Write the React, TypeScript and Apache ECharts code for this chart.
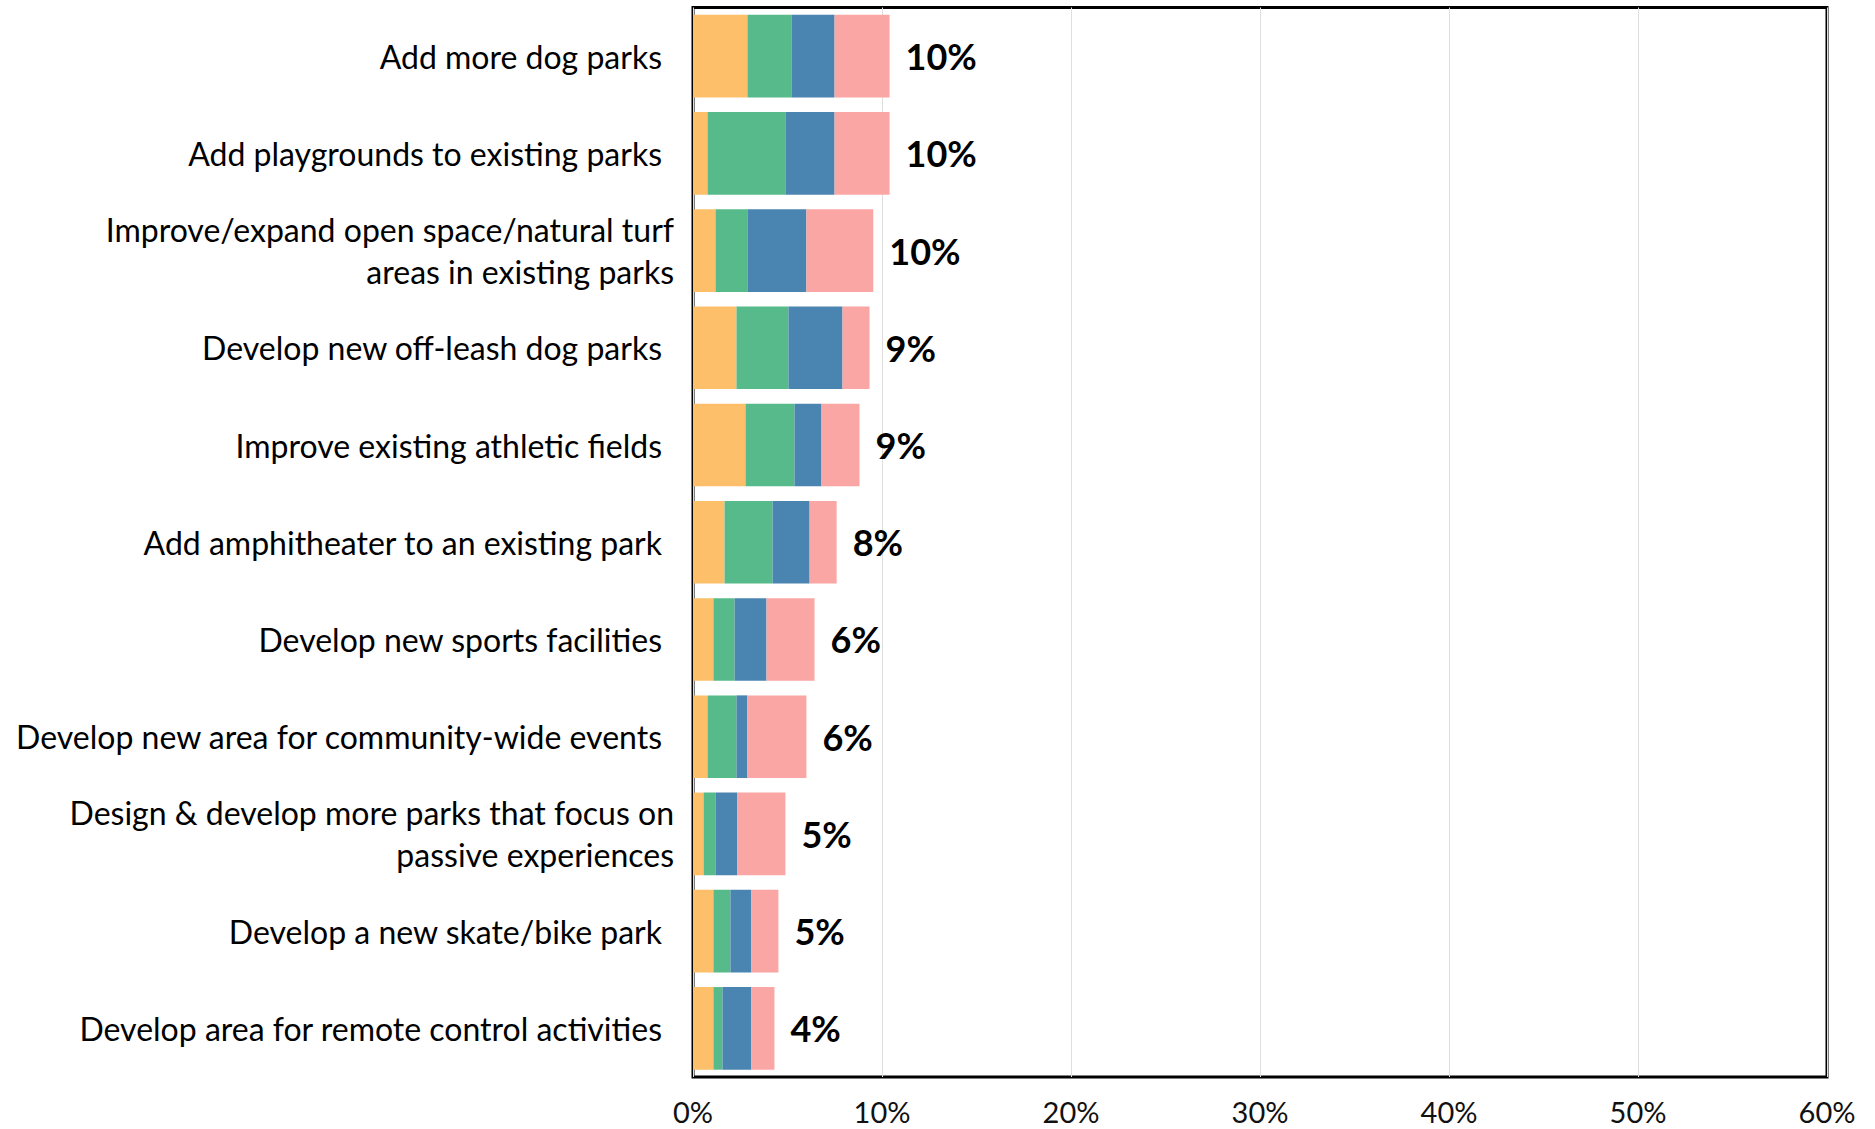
import React, { useEffect, useRef } from "react";
import * as echarts from "echarts";

const categories = [
  "Add more dog parks",
  "Add playgrounds to existing parks",
  "Improve/expand open space/natural turf\nareas in existing parks",
  "Develop new off-leash dog parks",
  "Improve existing athletic fields",
  "Add amphitheater to an existing park",
  "Develop new sports facilities",
  "Develop new area for community-wide events",
  "Design & develop more parks that focus on\npassive experiences",
  "Develop a new skate/bike park",
  "Develop area for remote control activities",
];

const orangeValues = [2.88, 0.77, 1.19, 2.3, 2.78, 1.67, 1.08, 0.77, 0.56, 1.08, 1.08];
const greenValues = [2.33, 4.12, 1.69, 2.75, 2.59, 2.54, 1.12, 1.53, 0.63, 0.9, 0.48];
const blueValues = [2.28, 2.6, 3.12, 2.86, 1.43, 1.96, 1.69, 0.58, 1.16, 1.11, 1.53];
const pinkValues = [2.91, 2.91, 3.54, 1.43, 2.01, 1.43, 2.54, 3.12, 2.54, 1.43, 1.22];

const xTicks = { min: 0, max: 60, interval: 10 };

const FONT = "Lato";

export default function App() {
  const ref = useRef<HTMLDivElement>(null);

  useEffect(() => {
    if (!ref.current) return;
    const chart = echarts.init(ref.current, null, { renderer: "svg" });
    const totals = orangeValues.map(
      (v, i) => v + greenValues[i] + blueValues[i] + pinkValues[i]
    );
    const seriesDefs = [
      { name: "Orange", data: orangeValues, color: "#FDBF6A" },
      { name: "Green", data: greenValues, color: "#57BA8A" },
      { name: "Blue", data: blueValues, color: "#4A84B0" },
      { name: "Pink", data: pinkValues, color: "#FAA6A4" },
    ];
    chart.setOption({
      animation: false,
      grid: {
        left: 693,
        right: 48,
        top: 7.5,
        bottom: 52,
        show: true,
        borderColor: "#000",
        borderWidth: 3,
        backgroundColor: "transparent",
      },
      xAxis: {
        type: "value",
        min: xTicks.min,
        max: xTicks.max,
        interval: xTicks.interval,
        axisLine: { show: false },
        axisTick: { show: false },
        splitLine: { show: true, lineStyle: { color: "#dedede", width: 1 } },
        axisLabel: {
          formatter: "{value}%",
          fontFamily: FONT,
          fontSize: 29,
          color: "#111",
          margin: 20,
        },
      },
      yAxis: {
        type: "category",
        inverse: true,
        data: categories,
        axisLine: { show: false },
        axisTick: { show: false },
        axisLabel: {
          margin: 19,
          formatter: (v: string) =>
            v.includes("\n")
              ? v
                  .split("\n")
                  .map((l) => `{w|${l}}`)
                  .join("\n")
              : `{s|${v}}`,
          rich: {
            w: {
              fontFamily: FONT,
              fontSize: 32,
              lineHeight: 42,
              color: "#000",
              align: "right",
            },
            s: {
              fontFamily: FONT,
              fontSize: 32,
              lineHeight: 42,
              color: "#000",
              align: "right",
              padding: [0, 12, 0, 0],
            },
          },
        },
      },
      series: seriesDefs.map((s, idx) => ({
        name: s.name,
        type: "bar",
        stack: "total",
        data: s.data,
        barCategoryGap: "15%",
        itemStyle: { color: s.color },
        label:
          idx === seriesDefs.length - 1
            ? {
                show: true,
                position: "right",
                distance: 16,
                formatter: (p: any) => `${Math.round(totals[p.dataIndex])}%`,
                fontFamily: FONT,
                fontWeight: "bold",
                fontSize: 36,
                color: "#000",
              }
            : { show: false },
      })),
    });
    return () => chart.dispose();
  }, []);

  return (
    <div
      ref={ref}
      style={{ position: "fixed", left: 0, top: 0, width: 1875, height: 1129, background: "#fff" }}
    />
  );
}
